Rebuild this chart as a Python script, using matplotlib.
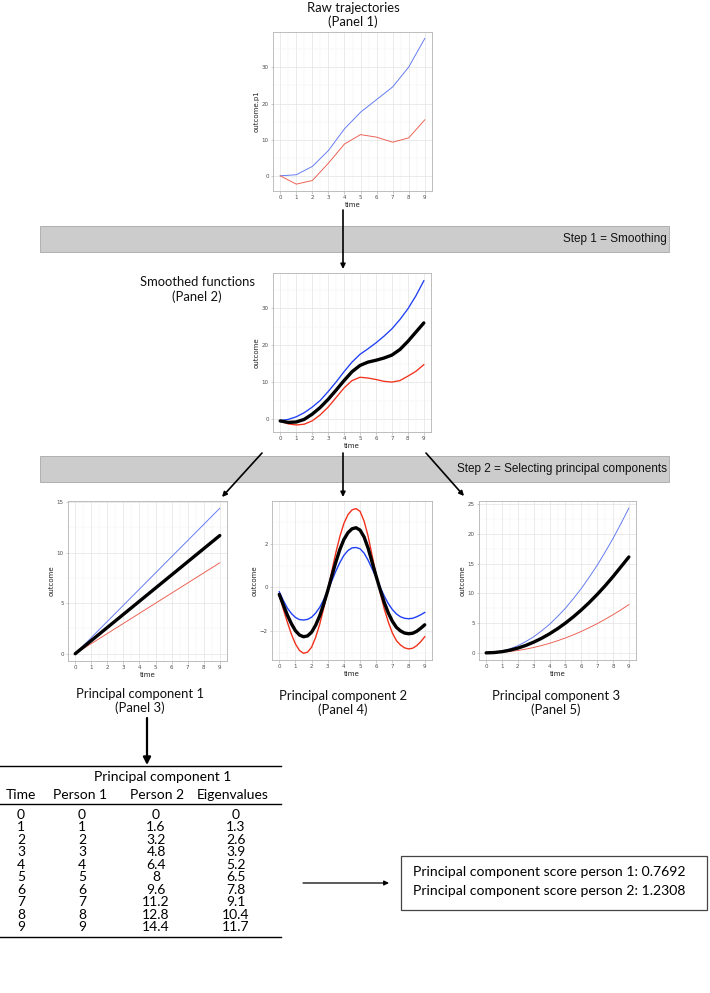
import numpy as np
import matplotlib
matplotlib.use("Agg")
import matplotlib.pyplot as plt
from matplotlib.patches import Rectangle
from matplotlib.ticker import MultipleLocator

# ---------------- data ----------------
time = [0, 1, 2, 3, 4, 5, 6, 7, 8, 9]
raw_p1 = [0.0, 0.3, 2.6, 7.0, 13.0, 17.6, 21.1, 24.6, 30.1, 38.0]
raw_p2 = [0.0, -2.3, -1.3, 3.5, 8.8, 11.4, 10.7, 9.3, 10.5, 15.5]

t_half = [0, 0.5, 1, 1.5, 2, 2.5, 3, 3.5, 4, 4.5, 5, 5.5, 6, 6.5, 7, 7.5, 8, 8.5, 9]
smooth_p1 = [-0.4, -0.1, 0.6, 1.7, 3.2, 5.0, 7.4, 10.0, 12.8, 15.4, 17.5, 19.0, 20.6, 22.4, 24.4, 26.9, 29.8, 33.3, 37.4]
smooth_mean = [-0.5, -0.9, -0.8, -0.1, 1.3, 3.1, 5.3, 7.8, 10.4, 12.8, 14.5, 15.4, 15.9, 16.5, 17.3, 18.8, 21.0, 23.5, 26.0]
smooth_p2 = [-0.5, -1.3, -1.6, -1.4, -0.5, 1.1, 3.2, 5.8, 8.4, 10.4, 11.3, 11.1, 10.7, 10.2, 10.0, 10.4, 11.6, 12.9, 14.7]

pc1_person1 = [0, 1, 2, 3, 4, 5, 6, 7, 8, 9]
pc1_person2 = [0, 1.6, 3.2, 4.8, 6.4, 8, 9.6, 11.2, 12.8, 14.4]
pc1_eigen = [0, 1.3, 2.6, 3.9, 5.2, 6.5, 7.8, 9.1, 10.4, 11.7]

t_quarter = [0, 0.25, 0.5, 0.75, 1, 1.25, 1.5, 1.75, 2, 2.25, 2.5, 2.75, 3, 3.25, 3.5, 3.75,
             4, 4.25, 4.5, 4.75, 5, 5.25, 5.5, 5.75, 6, 6.25, 6.5, 6.75, 7, 7.25, 7.5, 7.75,
             8, 8.25, 8.5, 8.75, 9]
pc2_p1 = [-0.2, -0.6, -0.95, -1.2, -1.38, -1.48, -1.5, -1.47, -1.37, -1.18, -0.92, -0.56,
          -0.15, 0.3, 0.75, 1.15, 1.48, 1.7, 1.82, 1.84, 1.78, 1.58, 1.25, 0.85, 0.45, 0.0,
          -0.4, -0.75, -1.02, -1.22, -1.35, -1.42, -1.44, -1.42, -1.35, -1.26, -1.15]
pc2_mean = [-0.32, -0.8, -1.27, -1.67, -1.99, -2.19, -2.27, -2.23, -2.06, -1.74, -1.31, -0.76,
            -0.15, 0.52, 1.17, 1.75, 2.21, 2.52, 2.7, 2.75, 2.64, 2.32, 1.8, 1.15, 0.5, -0.12,
            -0.7, -1.18, -1.56, -1.84, -2.0, -2.1, -2.13, -2.11, -2.02, -1.88, -1.72]
pc2_p2 = [-0.35, -1.0, -1.6, -2.15, -2.6, -2.9, -3.03, -2.98, -2.75, -2.3, -1.7, -0.95,
          -0.15, 0.75, 1.6, 2.35, 2.95, 3.35, 3.57, 3.63, 3.5, 3.05, 2.35, 1.45, 0.55, -0.25,
          -1.0, -1.6, -2.1, -2.45, -2.65, -2.78, -2.83, -2.8, -2.68, -2.5, -2.27]

pc3_p1 = [0.0, 0.08, 0.3, 0.68, 1.2, 1.9, 2.7, 3.7, 4.8, 6.1, 7.5, 9.1, 10.8, 12.7, 14.7, 16.9, 19.2, 21.7, 24.3]
pc3_mean = [0.0, 0.05, 0.2, 0.45, 0.8, 1.25, 1.8, 2.45, 3.2, 4.05, 5.0, 6.05, 7.2, 8.45, 9.8, 11.25, 12.8, 14.45, 16.1]
pc3_p2 = [0.0, 0.03, 0.1, 0.23, 0.4, 0.63, 0.9, 1.23, 1.6, 2.03, 2.5, 3.03, 3.6, 4.23, 4.9, 5.63, 6.4, 7.23, 8.1]

scores = [("Principal component score person 1", "0.7692"),
          ("Principal component score person 2", "1.2308")]

# ---------------- figure ----------------
W, H = 710, 993
fig = plt.figure(figsize=(W / 100, H / 100), dpi=100)
fig.patch.set_facecolor("white")

CAL = ["Lato", "DejaVu Sans"]
ARIAL = ["Liberation Sans", "DejaVu Sans"]

ov = fig.add_axes([0, 0, 1, 1], zorder=0)
ov.set_xlim(0, W)
ov.set_ylim(H, 0)
ov.axis("off")
ov.patch.set_alpha(0)


def panel(x0, y0, x1, y1):
    return fig.add_axes([x0 / W, 1 - y1 / H, (x1 - x0) / W, (y1 - y0) / H], zorder=2)


def style(ax, ymajor, yminor, ylabel, xlim=(-0.45, 9.45)):
    ax.set_facecolor("white")
    for s in ax.spines.values():
        s.set_color("#b3b3b3")
        s.set_linewidth(0.6)
    ax.set_xlim(*xlim)
    ax.xaxis.set_major_locator(MultipleLocator(1))
    ax.xaxis.set_minor_locator(MultipleLocator(0.5))
    ax.yaxis.set_major_locator(MultipleLocator(ymajor))
    ax.yaxis.set_minor_locator(MultipleLocator(yminor))
    ax.grid(which="major", color="#e0e0e0", lw=0.45)
    ax.grid(which="minor", color="#f0f0f0", lw=0.3)
    ax.set_axisbelow(True)
    ax.tick_params(which="major", length=1.8, width=0.45, color="#b3b3b3",
                   labelsize=4, labelcolor="#4d4d4d", pad=1.2)
    ax.tick_params(which="minor", length=0)
    ax.set_xlabel("time", fontsize=5, labelpad=1, color="#222222")
    ax.set_ylabel(ylabel, fontsize=5, labelpad=1.5, color="#222222")


BLUE_T = "#5b74f0"
RED_T = "#ec5a4c"
BLUE = "#1f3ff5"
RED = "#f2311c"
THICK = 2.4

# Panel 1
ax1 = panel(273, 32, 432, 191)
ax1.plot(time, raw_p1, color=BLUE_T, lw=0.65)
ax1.plot(time, raw_p2, color=RED_T, lw=0.65)
ax1.set_ylim(-4.2, 39.8)
style(ax1, 10, 5, "outcome.p1")

# Panel 2
ax2 = panel(273, 273, 431, 432)
ax2.plot(t_half, smooth_p1, color=BLUE, lw=0.95)
ax2.plot(t_half, smooth_p2, color=RED, lw=0.95)
ax2.plot(t_half, smooth_mean, color="black", lw=THICK, solid_capstyle="round",
         solid_joinstyle="round")
ax2.set_ylim(-3.5, 39.5)
style(ax2, 10, 5, "outcome")

# Panel 3
ax3 = panel(68, 501, 227, 661)
ax3.plot(time, pc1_person2, color=BLUE_T, lw=0.65)
ax3.plot(time, pc1_person1, color=RED_T, lw=0.65)
ax3.plot(time, pc1_eigen, color="black", lw=THICK, solid_capstyle="round")
ax3.set_ylim(-0.72, 15.12)
style(ax3, 5, 2.5, "outcome")

# Panel 4
ax4 = panel(272, 501, 432, 660)
ax4.plot(t_quarter, pc2_p1, color=BLUE, lw=1.0)
ax4.plot(t_quarter, pc2_p2, color=RED, lw=1.0)
ax4.plot(t_quarter, pc2_mean, color="black", lw=THICK, solid_capstyle="round",
         solid_joinstyle="round")
ax4.set_ylim(-3.34, 3.98)
style(ax4, 2, 1, "outcome")

# Panel 5
ax5 = panel(479, 501, 636, 660)
ax5.plot(t_half, pc3_p1, color=BLUE_T, lw=0.65)
ax5.plot(t_half, pc3_p2, color=RED_T, lw=0.65)
ax5.plot(t_half, pc3_mean, color="black", lw=THICK, solid_capstyle="round",
         solid_joinstyle="round")
ax5.set_ylim(-1.2, 25.5)
style(ax5, 5, 2.5, "outcome")

# ---------------- overlay ----------------
TFS = 9.4


def title(x, y, s, fs=TFS):
    ov.text(x, y, s, ha="center", va="center", fontsize=fs, family=CAL, color="#111111")


title(353, 8, "Raw trajectories")
title(353, 22, "(Panel 1)")
title(197, 282, "Smoothed functions")
title(197, 297, "(Panel 2)")
title(140, 694, "Principal component 1")
title(140, 708, "(Panel 3)")
title(343, 696, "Principal component 2")
title(343, 710, "(Panel 4)")
title(556, 696, "Principal component 3")
title(556, 710, "(Panel 5)")

# bands
for (y0, y1, txt) in [(226, 252, "Step 1 = Smoothing"),
                      (456, 482, "Step 2 = Selecting principal components")]:
    ov.add_patch(Rectangle((40, y0), 629, y1 - y0, facecolor="#cccccc",
                           edgecolor="#a8a8a8", lw=0.6, zorder=1))
    ov.text(667, (y0 + y1) / 2, txt, ha="right", va="center", fontsize=8.5,
            family=ARIAL, color="#111111", zorder=2)


def arrow(x0, y0, x1, y1, lw=1.2, ms=7):
    ov.annotate("", xy=(x1, y1), xytext=(x0, y0),
                arrowprops=dict(arrowstyle="-|>", color="black", lw=lw,
                                mutation_scale=ms, shrinkA=0, shrinkB=0),
                zorder=3)


arrow(343, 210, 343, 269)
arrow(343, 453, 343, 497)
arrow(262, 453, 222, 497)
arrow(426, 453, 464, 496)
arrow(147, 718, 147, 765, lw=1.6, ms=11)
arrow(303, 883, 389, 883, lw=0.9, ms=7)

# table
TX = 10.0
ov.plot([0, 281], [766, 766], color="black", lw=1.0)
ov.plot([0, 281], [804, 804], color="black", lw=1.0)
ov.plot([0, 281], [937, 937], color="black", lw=1.0)
ov.text(163, 777, "Principal component 1", ha="center", va="center", fontsize=TX, family=CAL)
col_x = [21, 82, 156, 236]
headers = ["Time", "Person 1", "Person 2", "Eigenvalues"]
for cx, h in zip([21, 80, 157, 233], headers):
    ov.text(cx, 795, h, ha="center", va="center", fontsize=TX, family=CAL)

for i, (t, a, b, c) in enumerate(zip(time, pc1_person1, pc1_person2, pc1_eigen)):
    y = 815 + 12.45 * i
    for cx, v in zip(col_x, [t, a, b, c]):
        ov.text(cx, y, "%g" % v, ha="center", va="center", fontsize=TX, family=CAL)

# score box
ov.add_patch(Rectangle((401, 856), 306, 54, facecolor="white", edgecolor="#444444", lw=0.9))
for i, (lab, val) in enumerate(scores):
    ov.text(413, 872 + 19 * i, f"{lab}: {val}", ha="left", va="center", fontsize=10.1, family=CAL)

fig.savefig("out.png", dpi=100, facecolor="white")
